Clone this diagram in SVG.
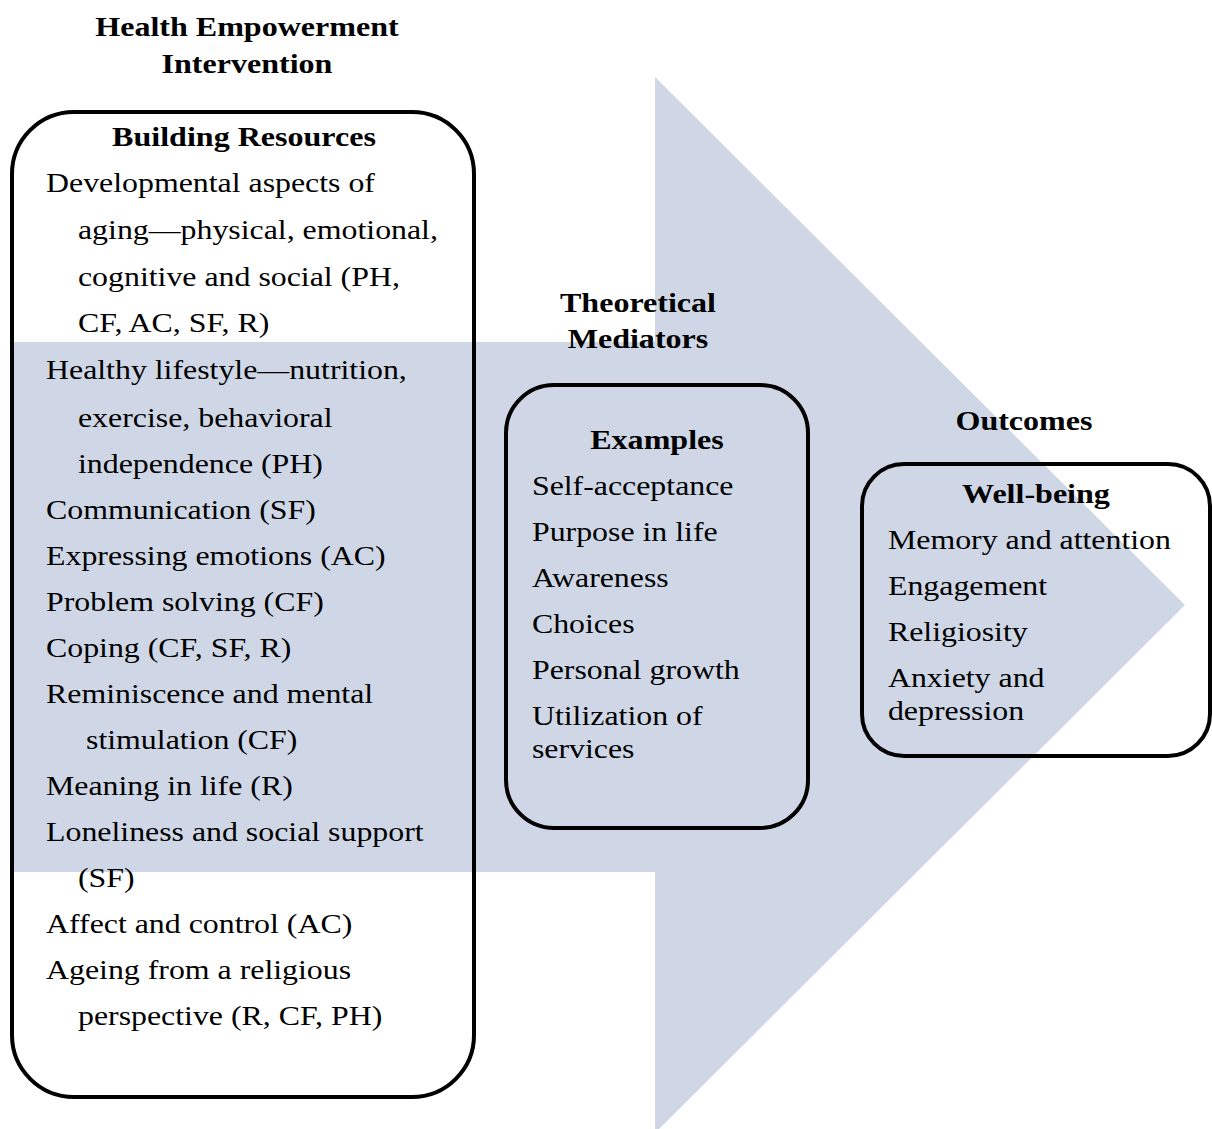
<svg xmlns="http://www.w3.org/2000/svg" width="1212" height="1129" viewBox="0 0 1212 1129">
<style>
text{font-family:"Liberation Serif","Times New Roman",serif;font-size:27px;fill:#000}
.b{font-weight:bold;font-size:28px;text-anchor:middle}
.box{fill:none;stroke:#000;stroke-width:4}
</style>
<rect width="1212" height="1129" fill="#fff"/>
<g id="arrow">
<polygon points="14,342 655,342 655,77 1185,605 655,1133 655,872 14,872" fill="#cfd7e6"/>
</g>
<g id="connectors"></g>
<g id="intervention">
<rect class="box" x="12" y="112" width="462" height="985" rx="62"/>
<g transform="scale(1.145,1)">
<text class="b" x="215.7" y="36">Health Empowerment</text>
<text class="b" x="215.7" y="73">Intervention</text>
<text class="b" x="213.1" y="146">Building Resources</text>
</g>
<g transform="scale(1.18,1)">
<text x="39" y="192">Developmental aspects of</text>
<text x="66.1" y="239">aging—physical, emotional,</text>
<text x="66.1" y="286">cognitive and social (PH,</text>
<text x="66.1" y="332">CF, AC, SF, R)</text>
<text x="39" y="379">Healthy lifestyle—nutrition,</text>
<text x="66.1" y="427">exercise, behavioral</text>
<text x="66.1" y="473">independence (PH)</text>
<text x="39" y="519">Communication (SF)</text>
<text x="39" y="565">Expressing emotions (AC)</text>
<text x="39" y="611">Problem solving (CF)</text>
<text x="39" y="657">Coping (CF, SF, R)</text>
<text x="39" y="703">Reminiscence and mental</text>
<text x="72.9" y="749">stimulation (CF)</text>
<text x="39" y="795">Meaning in life (R)</text>
<text x="39" y="841">Loneliness and social support</text>
<text x="66.1" y="887">(SF)</text>
<text x="39" y="933">Affect and control (AC)</text>
<text x="39" y="979">Ageing from a religious</text>
<text x="66.1" y="1025">perspective (R, CF, PH)</text>
</g>
</g>
<g id="mediators">
<rect class="box" x="506" y="385" width="302" height="443" rx="48"/>
<g transform="scale(1.145,1)">
<text class="b" x="557.2" y="312">Theoretical</text>
<text class="b" x="557.2" y="348">Mediators</text>
<text class="b" x="573.8" y="449">Examples</text>
</g>
<g transform="scale(1.18,1)">
<text x="450.8" y="495">Self-acceptance</text>
<text x="450.8" y="541">Purpose in life</text>
<text x="450.8" y="587">Awareness</text>
<text x="450.8" y="633">Choices</text>
<text x="450.8" y="679">Personal growth</text>
<text x="450.8" y="725">Utilization of</text>
<text x="450.8" y="758">services</text>
</g>
</g>
<g id="outcomes">
<rect class="box" x="862" y="464" width="348" height="292" rx="42"/>
<g transform="scale(1.145,1)">
<text class="b" x="894.3" y="430">Outcomes</text>
<text class="b" x="904.8" y="503">Well-being</text>
</g>
<g transform="scale(1.18,1)">
<text x="752.5" y="549">Memory and attention</text>
<text x="752.5" y="595">Engagement</text>
<text x="752.5" y="641">Religiosity</text>
<text x="752.5" y="687">Anxiety and</text>
<text x="752.5" y="720">depression</text>
</g>
</g>
</svg>
